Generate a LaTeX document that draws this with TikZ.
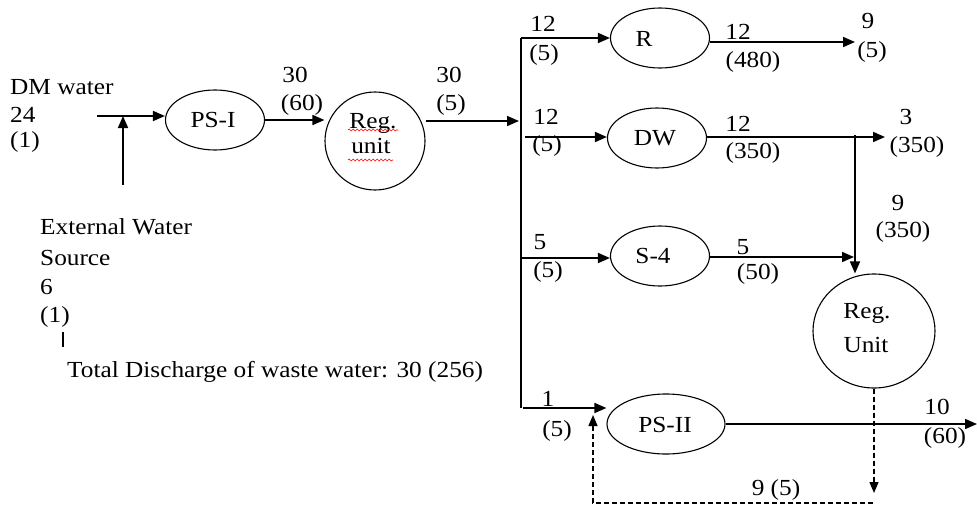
\documentclass[tikz,border=0pt]{standalone}
\usepackage{fontspec}
\setmainfont{Liberation Serif}[FakeStretch=1.1]
\usetikzlibrary{arrows.meta,decorations.pathmorphing,shapes.geometric}
\begin{document}
\begin{tikzpicture}[x=1pt,y=-1pt,
  every node/.style={font=\fontsize{23}{28}\selectfont},
  txt/.style={inner sep=0pt},
  ell/.style={draw,ellipse,line width=1.1pt,minimum width=99pt,minimum height=60pt,inner sep=0pt},
  circ/.style={draw,ellipse,line width=1.1pt,inner sep=0pt},
  arr/.style={line width=1.7pt,-{Triangle[length=12pt,width=10pt]}},
  ln/.style={line width=1.7pt},
  dsh/.style={line width=1.4pt,dash pattern=on 5pt off 3pt},
  squig/.style={red,line width=0.6pt,decorate,decoration={snake,segment length=4pt,amplitude=1pt}}
]
\useasboundingbox (0,0) rectangle (977,506);

% main units
\node[ell] (psi) at (215,120) {};
\node[txt] (psit) at (213,120) {PS-I};
\node[circ,minimum width=100pt,minimum height=98pt] (reg1) at (375,141) {};
\node[txt] (reg1a) at (373,123) {Reg.};
\node[txt] (reg1b) at (371,146) {unit};
\draw[squig] (348,130) -- (398,130);
\draw[squig] (348,160) -- (393,160);

\node[ell] (R) at (660,38) {};
\node[txt] (Rt) at (644,39) {R};
\node[ell] (DW) at (657,138) {};
\node[txt] (DWt) at (655,138) {DW};
\node[ell] (S4) at (660,256) {};
\node[txt] (S4t) at (653,256) {S-4};
\node[ell,minimum width=118pt] (psii) at (666,424) {};
\node[txt] (psiit) at (665,425) {PS-II};
\node[circ,minimum width=122pt,minimum height=114pt] (reg2) at (874,331) {};
\node[txt] (reg2a) at (867,313) {Reg.};
\node[txt] (reg2b) at (866,345) {Unit};

% coordinates
\coordinate (inl) at (97,116);
\coordinate (exb) at (123,185);
\coordinate (ext) at (123,116);
\coordinate (jn) at (519,121);
\coordinate (bt) at (521,38);
\coordinate (bb) at (521,408);
\coordinate (dws) at (525,137);
\coordinate (s4s) at (521,258);
\coordinate (pss) at (523,408);
\coordinate (rend) at (855,42);
\coordinate (dwend) at (885,137);
\coordinate (dwv) at (855,135);
\coordinate (s4end) at (854,257);
\coordinate (psend) at (977,424);
\coordinate (dd) at (873,493);
\coordinate (dh1) at (873,503);
\coordinate (dh2) at (593,503);
\coordinate (dup) at (593,415);

% connectors
\draw[arr] (inl) -- (psi.west |- inl);
\draw[arr] (exb) -- (ext);
\draw[arr] (psi.east) -- (reg1.west |- psi.east);
\draw[arr] (reg1.east |- jn) -- (jn);
\draw[ln] (bt) -- (bb);
\draw[arr] (bt) -- (R.west |- bt);
\draw[arr] (dws) -- (DW.west |- dws);
\draw[arr] (s4s) -- (S4.west |- s4s);
\draw[arr] (pss) -- (psii.west |- pss);
\draw[arr] (R.east |- rend) -- (rend);
\draw[arr] (DW.east |- dwend) -- (dwend);
\draw[arr] (dwv) -- (dwv |- reg2.north);
\draw[arr] (S4.east |- s4end) -- (s4end);
\draw[arr] (psii.east) -- (psend);
\draw[dsh,-{Triangle[length=11pt,width=9pt]}] (reg2.south) -- (reg2.south |- dd);
\draw[dsh,-{Triangle[length=11pt,width=9pt]}] (dh1) -- (dh2) -- (dup);

% cursor mark
\draw[line width=2.5pt] (63,332) -- (63,347);

% labels
\node[txt,anchor=west] (dm1) at (10,87) {DM water};
\node[txt,anchor=west] (dm2) at (10,115) {24};
\node[txt,anchor=west] (dm3) at (10,142) {(1)};
\node[txt] (l1) at (295,75) {30};
\node[txt] (l2) at (302,105) {(60)};
\node[txt] (l3) at (449,75) {30};
\node[txt] (l4) at (451,105) {(5)};
\node[txt] (l5) at (543,24) {12};
\node[txt] (l6) at (544,55) {(5)};
\node[txt] (l7) at (738,32) {12};
\node[txt] (l8) at (753,62) {(480)};
\node[txt] (l9) at (868,21) {9};
\node[txt] (l10) at (872,52) {(5)};
\node[txt] (l11) at (546,117) {12};
\node[txt] (l12) at (547,146) {(5)};
\node[txt] (l13) at (738,124) {12};
\node[txt] (l14) at (753,153) {(350)};
\node[txt] (l15) at (906,117) {3};
\node[txt] (l16) at (917,147) {(350)};
\node[txt] (l17) at (898,203) {9};
\node[txt] (l18) at (903,232) {(350)};
\node[txt] (l19) at (540,242) {5};
\node[txt] (l20) at (548,272) {(5)};
\node[txt] (l21) at (743,247) {5};
\node[txt] (l22) at (758,274) {(50)};
\node[txt] (l23) at (548,399) {1};
\node[txt] (l24) at (557,431) {(5)};
\node[txt] (l25) at (937,407) {10};
\node[txt] (l26) at (945,438) {(60)};
\node[txt] (l27) at (776,490) {9 (5)};
\node[txt,anchor=west] (e1) at (40,227) {External Water};
\node[txt,anchor=west] (e2) at (40,258) {Source};
\node[txt,anchor=west] (e3) at (40,287) {6};
\node[txt,anchor=west] (e4) at (40,317) {(1)};
\node[txt,anchor=west] (tot) at (67,372) {Total Discharge of waste water: 30 (256)};
\end{tikzpicture}
\end{document}
